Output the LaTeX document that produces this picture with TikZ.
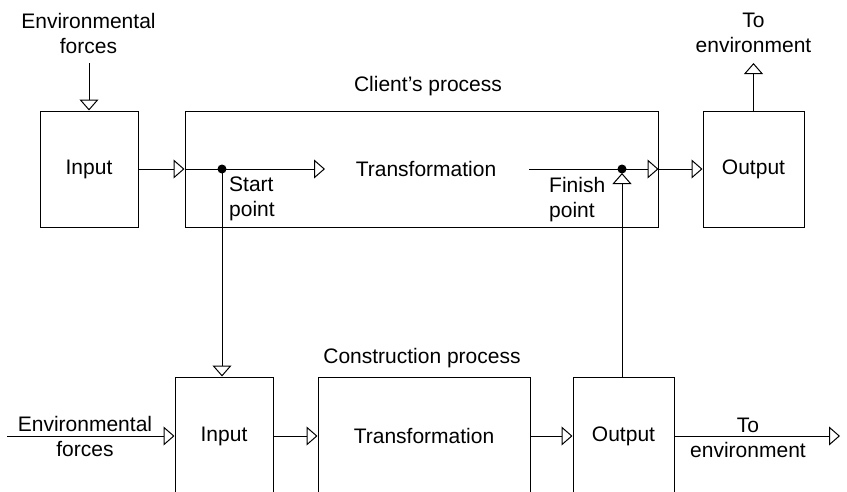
\documentclass[tikz,border=0pt]{standalone}
\usepackage{fontspec}
\setmainfont{Liberation Sans}
\usetikzlibrary{arrows.meta}
\tikzset{
  >={Triangle[open,length=11pt,width=19pt]},
}
\tikzstyle{block}=[draw,line width=1pt,minimum height=116pt]
\tikzstyle{flow}=[line width=1pt,->]
\tikzstyle{link}=[line width=1pt]
\tikzstyle{every node}=[font=\fontsize{21}{25}\selectfont,align=center,inner sep=0pt]

\begin{document}
\begin{tikzpicture}[x=1pt,y=-1pt]
    \useasboundingbox (0,0) rectangle (847,491);
    \clip (0,0) rectangle (847,491);
    \node[block,minimum width=98pt] (inA) at (89,169) {Input};
    \node[block,minimum width=473pt] (client) at (421.5,169) {};
    \node[block,minimum width=101pt] (outA) at (753.5,169) {Output};
    \node (clientlbl) at (428,86.5) {Client’s process};
    \node (transA) at (426,169) {Transformation};
    \node (envA) at (88.5,33) {Environmental\\forces};
    \node (toA) at (753.5,33) {To\\environment};
    \coordinate (start) at (222,169);
    \coordinate (finish) at (622,169);
    \coordinate (tin) at (325,169);
    \coordinate (tout) at (529,169);
    \node[anchor=north west,align=left] (startlbl) at (229,177) {Start\\point};
    \node[anchor=north west,align=left] (finishlbl) at (549,177) {Finish\\point};
    \node[block,minimum width=98pt,minimum height=118pt] (inB) at (224,436) {Input};
    \node[block,minimum width=212pt,minimum height=118pt] (transB) at (424,436) {Transformation};
    \node[block,minimum width=101pt,minimum height=118pt] (outB) at (623.5,436) {Output};
    \node (conlbl) at (422,358) {Construction process};
    \node (envB) at (85,436) {Environmental\\forces};
    \node (toB) at (748,438) {To\\environment};
    \coordinate (envBin) at (7,436);
    \coordinate (toBout) at (840,436);
    \draw[flow,shorten <=10pt] (envA.south -| inA.north) -- (inA.north);
    \draw[flow] (inA.east) -- (client.west);
    \draw[flow] (client.west) -- (tin);
    \draw[flow] (tout) -- (client.east);
    \draw[flow] (client.east) -- (outA.west);
    \draw[flow,shorten >=10pt] (outA.north) -- (toA.south -| outA.north);
    \draw[flow] (start) -- (start |- inB.north);
    \draw[flow,shorten >=4pt] (finish |- outB.north) -- (finish);
    \draw[flow] (envBin) -- (inB.west);
    \draw[flow] (inB.east) -- (transB.west);
    \draw[flow] (transB.east) -- (outB.west);
    \draw[flow] (outB.east) -- (toBout);
    \fill (start) circle[radius=4.5pt];
    \fill (finish) circle[radius=4.5pt];
\end{tikzpicture}
\end{document}
